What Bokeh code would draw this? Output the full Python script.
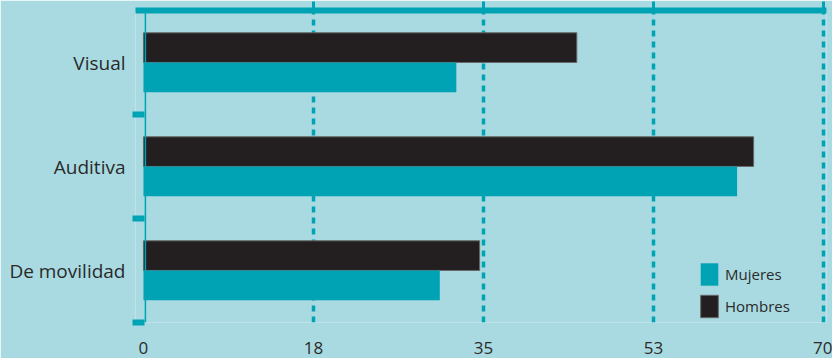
from bokeh.plotting import figure
from bokeh.models import (ColumnDataSource, Range1d, LinearAxis, FixedTicker, Span, Legend, LegendItem)
from bokeh.transform import dodge
from bokeh.embed import file_html
from bokeh.resources import INLINE

categories = ["De movilidad", "Auditiva", "Visual"]
hombres = [34.6, 62.8, 44.6]
mujeres = [30.5, 61.1, 32.2]
tick_values = [0, 17.5, 35, 52.5, 70]
tick_labels = ["0", "18", "35", "53", "70"]

BG = "#A9DAE1"
TEAL = "#00A3B3"
BLACK = "#231F20"
TXT = "#2a2a2a"
FONT = "Open Sans"

ypos = [i + 0.5 for i in range(len(categories))]
src = ColumnDataSource(dict(cat=categories, y=ypos, hombres=hombres, mujeres=mujeres))

p = figure(width=832, height=358, output_backend="svg", toolbar_location=None,
           y_range=Range1d(0, len(categories)), x_range=Range1d(-0.82, 70.3),
           x_axis_location=None, y_axis_location=None,
           min_border_left=135, min_border_right=6, min_border_top=10, min_border_bottom=36)
p.background_fill_color = BG
p.border_fill_color = BG
p.outline_line_color = None

# grid
p.xgrid.ticker = FixedTicker(ticks=tick_values[1:])
p.xgrid.grid_line_color = TEAL
p.xgrid.grid_line_width = 3.5
p.xgrid.grid_line_dash = "6 5"
p.ygrid.grid_line_color = None

# vertical base line
p.add_layout(Span(location=0.2, dimension="height", line_color=TEAL, line_width=1.5))

r_h = p.hbar(y=dodge("y", 0.143), left=0, right="hombres", height=0.285,
             source=src, fill_color=BLACK, line_color="#666666", line_width=1)
r_m = p.hbar(y=dodge("y", -0.143), left=0, right="mujeres", height=0.285,
             source=src, fill_color=TEAL, line_color=None)

# left boundary ticks
bticks = list(range(len(categories)))
tick_axis = LinearAxis(ticker=FixedTicker(ticks=bticks),
                       major_label_overrides={t: "" for t in bticks},
                       axis_line_color=None, major_tick_in=9, major_tick_out=3,
                       major_tick_line_width=6, major_tick_line_color=TEAL,
                       minor_tick_line_color=None, major_label_standoff=0)
p.add_layout(tick_axis, "left")

cat_axis = LinearAxis(ticker=FixedTicker(ticks=ypos),
                      major_label_overrides={y: c for y, c in zip(ypos, categories)},
                      axis_line_color=None, major_tick_line_color=None,
                      minor_tick_line_color=None, major_label_standoff=1,
                      major_label_text_font=FONT, major_label_text_font_size="19px",
                      major_label_text_color=TXT)
p.add_layout(cat_axis, "left")

# top axis line
top_axis = LinearAxis(ticker=FixedTicker(ticks=tick_values[1:]),
                      major_label_overrides={t: "" for t in tick_values[1:]},
                      axis_line_color=TEAL,
                      axis_line_width=6, major_tick_out=9, major_tick_in=0,
                      major_tick_line_width=3, major_tick_line_color=TEAL,
                      minor_tick_line_color=None, major_label_standoff=0)
p.add_layout(top_axis, "above")

# bottom labels
bot_axis = LinearAxis(ticker=FixedTicker(ticks=tick_values),
                      major_label_overrides={v: l for v, l in zip(tick_values, tick_labels)},
                      axis_line_color=None, major_tick_line_color=None, minor_tick_line_color=None,
                      major_label_standoff=13, major_label_text_font=FONT,
                      major_label_text_font_size="17px", major_label_text_color=TXT)
p.add_layout(bot_axis, "below")

legend = Legend(items=[LegendItem(label="Mujeres", renderers=[r_m]),
                       LegendItem(label="Hombres", renderers=[r_h])],
                location=(563, 2), orientation="vertical",
                glyph_width=22, glyph_height=28, label_height=28, spacing=4,
                label_standoff=5, padding=0, margin=0,
                background_fill_alpha=0, border_line_color=None,
                label_text_font=FONT, label_text_font_size="15px", label_text_color=TXT)
p.add_layout(legend, "center")

open("out.html", "w").write(file_html(p, INLINE))
